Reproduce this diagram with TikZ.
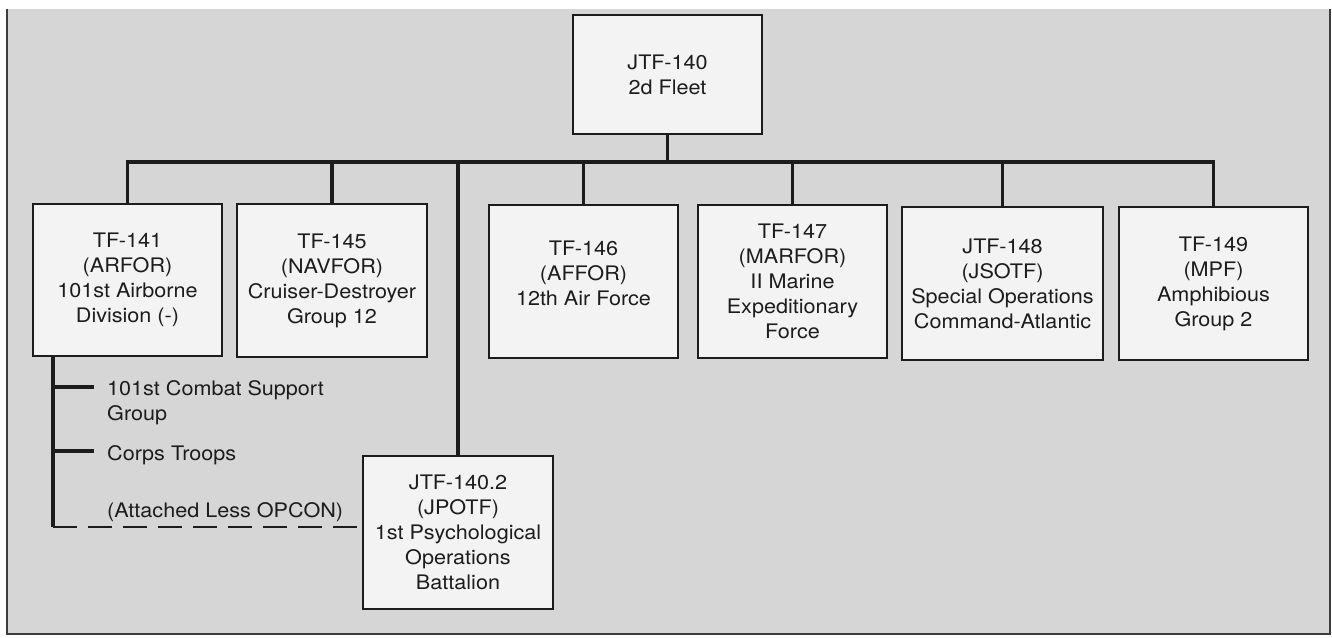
\documentclass[tikz,border=0pt]{standalone}
\usepackage{fontspec}
\setmainfont{TeX Gyre Heros}[FakeStretch=1.08]
\definecolor{paper}{RGB}{214,214,214}
\definecolor{boxfill}{RGB}{243,243,243}
\definecolor{ink}{RGB}{28,28,28}
\definecolor{frameink}{RGB}{60,60,60}
\begin{document}
\begin{tikzpicture}[x=1pt,y=-1pt,
  orgbox/.style={draw=ink, line width=1.8pt, fill=boxfill, align=center,
    text=ink, font=\fontsize{20}{25}\selectfont, inner sep=0pt},
  conn/.style={draw=ink, line width=3.5pt},
  subconn/.style={draw=ink, line width=3.5pt},
  dashconn/.style={draw=ink, line width=2pt, dash pattern=on 24pt off 11pt},
  subtext/.style={text=ink, font=\fontsize{20}{25}\selectfont, inner sep=0pt, align=left}]
\useasboundingbox (0,0) rectangle (1332,637);
% paper background and frame
\fill[paper] (7,9) rectangle (1330,634);
\draw[frameink, line width=2pt] (7,9) -- (7,634) -- (1330,634) -- (1330,9);

% boxes
\node[orgbox, minimum width=189pt, minimum height=119pt] (top) at (667.5,74.5) {JTF-140\\2d Fleet};
\node[orgbox, minimum width=189pt, minimum height=152pt] (t141) at (127.5,280) {TF-141\\(ARFOR)\\101st Airborne\\Division (-)};
\node[orgbox, minimum width=190pt, minimum height=153pt] (t145) at (332,280.5) {TF-145\\(NAVFOR)\\Cruiser-Destroyer\\Group 12};
\node[orgbox, minimum width=189pt, minimum height=153pt] (t146) at (583.5,281.5) {TF-146\\(AFFOR)\\12th Air Force\\[-9pt]\mbox{}};
\node[orgbox, minimum width=189pt, minimum height=153pt] (t147) at (792.5,281.5) {TF-147\\(MARFOR)\\II Marine\\Expeditionary\\Force};
\node[orgbox, minimum width=201pt, minimum height=153pt] (t148) at (1002.5,283.5) {JTF-148\\(JSOTF)\\Special Operations\\Command-Atlantic};
\node[orgbox, minimum width=189pt, minimum height=153pt] (t149) at (1213.5,283.5) {TF-149\\(MPF)\\Amphibious\\Group 2};
\node[orgbox, minimum width=190pt, minimum height=153pt] (jpotf) at (458,532.5) {JTF-140.2\\(JPOTF)\\1st Psychological\\Operations\\Battalion};

% main tree
\coordinate (bar) at (667.5,162);
\draw[conn] (top.south) -- (top.south |- bar);
\draw[conn, line cap=rect] (t141.north |- bar) -- (t149.north |- bar);
\foreach \b in {t141,t145,t146,t147,t148,t149,jpotf}
  \draw[conn] (\b.north |- bar) -- (\b.north);

% subordinate list under TF-141
\coordinate (sb) at (53,527);
\coordinate (b1) at (94,387);
\coordinate (b2) at (94,451);
\draw[subconn] (t141.south -| sb) -- (sb);
\draw[subconn] (b1 -| sb) -- (b1);
\draw[subconn] (b2 -| sb) -- (b2);
\draw[dashconn] (sb) -- (sb -| jpotf.west);

\node[subtext, anchor=north west] (cs) at (107,380.5) {101st Combat Support\\Group};
\node[subtext, anchor=base west] (ct) at (107,460) {Corps Troops};
\node[subtext, anchor=base west] (al) at (107,517) {(Attached Less OPCON)};
\end{tikzpicture}
\end{document}
